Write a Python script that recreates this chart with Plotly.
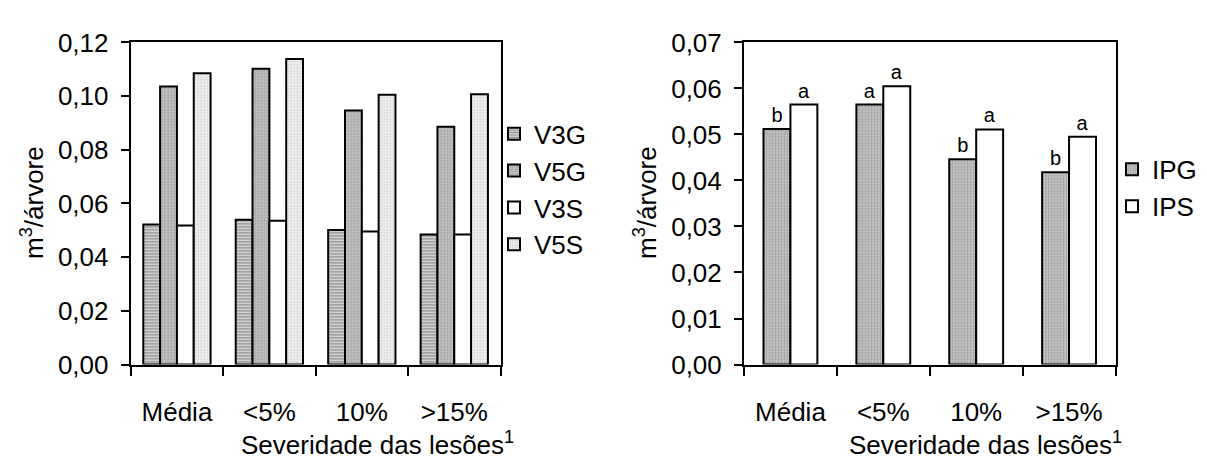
import plotly.graph_objects as go

W, H = 1207, 464

categories = ["Média", "<5%", "10%", ">15%"]

# Left chart (m3/árvore)
v3g = [0.0522, 0.0539, 0.0501, 0.0484]
v5g = [0.1036, 0.1102, 0.0946, 0.0886]
v3s = [0.0518, 0.0536, 0.0496, 0.0484]
v5s = [0.1085, 0.1138, 0.1005, 0.1007]

# Right chart
ipg = [0.0512, 0.0565, 0.0446, 0.0418]
ips = [0.0565, 0.0605, 0.0511, 0.0495]
ipg_letters = ["b", "a", "b", "b"]
ips_letters = ["a", "a", "a", "a"]

FONT = "Liberation Sans, Arial, sans-serif"
FS = 26

def px_x(p):
    return p / W

def px_y(p):
    return 1 - p / H

fig = go.Figure()

line = dict(color="black", width=2)

left_series = [
    ("V3G", v3g, dict(shape="-", fgcolor="#222222", bgcolor="#e8e8e8", size=3, solidity=0.5)),
    ("V5G", v5g, dict(shape=".", fgcolor="#707070", bgcolor="#cfcfcf", size=3, solidity=0.5)),
    ("V3S", v3s, dict(shape="", bgcolor="white")),
    ("V5S", v5s, dict(shape=".", fgcolor="#a0a0a0", bgcolor="#f4f4f4", size=3, solidity=0.35)),
]
wl = 0.182
for i, (name, vals, pat) in enumerate(left_series):
    fig.add_trace(go.Bar(
        x=categories, y=vals, name=name, xaxis="x", yaxis="y",
        width=wl, offset=-2 * wl + i * wl,
        marker=dict(color="white", line=line, pattern=pat),
        legend="legend", legendgroup=name,
    ))

wr = 0.29
right_series = [
    ("IPG", ipg, ipg_letters, dict(shape=".", fgcolor="#707070", bgcolor="#cfcfcf", size=3, solidity=0.5)),
    ("IPS", ips, ips_letters, dict(shape="", bgcolor="white")),
]
for i, (name, vals, letters, pat) in enumerate(right_series):
    fig.add_trace(go.Bar(
        x=categories, y=vals, name=name, xaxis="x2", yaxis="y2",
        width=wr, offset=-wr + i * wr,
        marker=dict(color="white", line=line, pattern=pat),
        text=letters, textposition="outside", cliponaxis=False,
        textfont=dict(family=FONT, size=20, color="black"),
        legend="legend2", legendgroup=name,
    ))

ydom = [px_y(373.7), px_y(29.3)]

def xaxis(domain, anchor):
    return dict(
        domain=domain, anchor=anchor, type="category",
        range=[-0.5, 3.5], tickson="boundaries",
        ticks="outside", ticklen=9, tickwidth=2, tickcolor="black",
        showline=True, linecolor="black", linewidth=2, mirror=True,
        showgrid=False, zeroline=False,
        tickfont=dict(family=FONT, size=FS, color="black"),
        ticklabelstandoff=23,
    )

def yaxis(domain, anchor, rng, dtick):
    return dict(
        domain=domain, anchor=anchor, range=rng, dtick=dtick,
        tickformat=".2f",
        ticks="outside", ticklen=8, tickwidth=2, tickcolor="black",
        showline=True, linecolor="black", linewidth=2, mirror=True,
        showgrid=False, zeroline=False,
        tickfont=dict(family=FONT, size=FS, color="black"),
        ticklabelstandoff=7,
    )

fig.update_layout(
    width=W, height=H,
    margin=dict(l=0, r=0, t=0, b=0),
    paper_bgcolor="white", plot_bgcolor="white",
    separators=",.",
    barmode="overlay",
    font=dict(family=FONT, size=FS, color="black"),
    xaxis=xaxis([px_x(130.7), px_x(500.5)], "y"),
    yaxis=yaxis(ydom, "x", [0, 0.12], 0.02),
    xaxis2=xaxis([px_x(744), px_x(1115.5)], "y2"),
    yaxis2=yaxis(ydom, "x2", [0, 0.07], 0.01),
    legend=dict(x=px_x(494), y=px_y(102), xanchor="left", yanchor="top",
                font=dict(family=FONT, size=FS), bgcolor="rgba(0,0,0,0)",
                tracegroupgap=0, itemclick=False),
    legend2=dict(x=px_x(1112), y=px_y(140), xanchor="left", yanchor="top",
                 font=dict(family=FONT, size=FS), bgcolor="rgba(0,0,0,0)",
                 tracegroupgap=0, itemclick=False),
    showlegend=True,
)

annotations = [
    dict(text="m<sup>3</sup>/árvore", x=px_x(32), y=px_y(201), textangle=-90,
         xanchor="center", yanchor="middle"),
    dict(text="m<sup>3</sup>/árvore", x=px_x(645), y=px_y(201), textangle=-90,
         xanchor="center", yanchor="middle"),
    dict(text="Severidade das lesões<sup>1</sup>", x=px_x(377), y=0,
         xanchor="center", yanchor="bottom", yshift=-13),
    dict(text="Severidade das lesões<sup>1</sup>", x=px_x(985), y=0,
         xanchor="center", yanchor="bottom", yshift=-13),
]
for a in annotations:
    fig.add_annotation(xref="paper", yref="paper", showarrow=False,
                       font=dict(family=FONT, size=FS, color="black"), **a)

fig.write_html("out.html")
